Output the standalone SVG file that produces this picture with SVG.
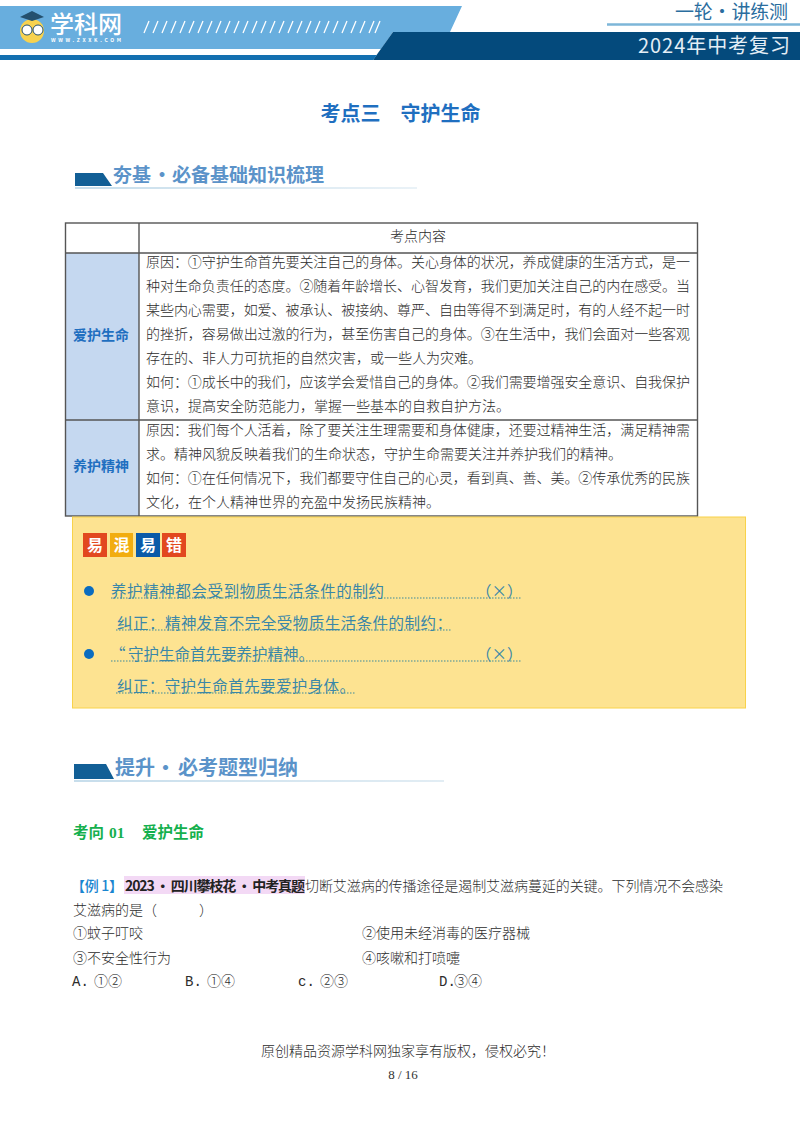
<svg xmlns="http://www.w3.org/2000/svg" width="800" height="1132" viewBox="0 0 800 1132">
<defs>
<linearGradient id="u1" gradientUnits="userSpaceOnUse" x1="75" y1="0" x2="417" y2="0"><stop offset="0" stop-color="#8fbcd8"/><stop offset="1" stop-color="#d5e5ef"/></linearGradient>
<linearGradient id="u2" gradientUnits="userSpaceOnUse" x1="74" y1="0" x2="444" y2="0"><stop offset="0" stop-color="#8fbcd8"/><stop offset="1" stop-color="#c5dbe9"/></linearGradient>
</defs>
<style>
text{font-family:"Noto Sans CJK SC","Noto Sans",sans-serif}
.b{font-size:14px;fill:#2c2c2c;font-weight:300}
.h{font-size:19px;font-weight:700;fill:#5b93c9}
.y{font-size:15.500px;fill:#3a87a8;font-weight:400}
.d{stroke:#3f8a9c;stroke-width:1.200;stroke-dasharray:1.500 1.500;fill:none}
.l{stroke:#555;stroke-width:1.400;fill:none}
.k{font-size:14px;font-weight:700;fill:#1f6fc0}
.t{font-size:16px;font-weight:700;fill:#fff;text-anchor:middle}
.o{font-family:"Liberation Mono",monospace}
</style>
<rect width="800" height="1132" fill="#fff"/>
<g id="header">
<polygon points="0,6 462,6 450,32 393,32 381,49 0,49" fill="#68aede"/>
<polygon points="393,32 800,32 800,60 373,60" fill="#044a7c"/>
<polygon points="0,55 377,55 373,60 0,60" fill="#1370b0"/>
<polyline points="607,24.500 800,24.500" stroke="#7db6d8" stroke-width="2.500"/>
<circle cx="32" cy="31" r="12" fill="#f7d24f"/>
<path d="M20 17 L32 11 L44 17 L32 21Z" fill="#24506e"/>
<circle cx="27" cy="30" r="5" fill="#fff" stroke="#24506e"/><circle cx="38" cy="30" r="5" fill="#fff" stroke="#24506e"/>
<text x="50" y="33" font-size="24" font-weight="500" fill="#fff" textLength="72">学科网</text>
<text x="51" y="41.500" font-size="5" font-weight="700" fill="#fff" textLength="70">WWW.ZXXK.COM</text>
<path d="M144 33L149 21M153 33L158 21M162 33L167 21M171 33L176 21M180 33L185 21M189 33L194 21M198 33L203 21M207 33L212 21M216 33L221 21M225 33L230 21M234 33L239 21M243 33L248 21M252 33L257 21M261 33L266 21M270 33L275 21M279 33L284 21M288 33L293 21M297 33L302 21M306 33L311 21M315 33L320 21M324 33L329 21M333 33L338 21M342 33L347 21M351 33L356 21M360 33L365 21M369 33L374 21M375 33L380 21" stroke="#fff" stroke-width="1.300"/>
<text x="675" y="18.500" font-size="19" fill="#2a6d9e" textLength="113">一轮·讲练测</text>
<text x="638" y="53" font-size="20" fill="#e4eef6" textLength="152">2024年中考复习</text>
</g>
<text id="title" x="400.500" y="121" font-size="20" font-weight="700" fill="#1f6fc0" text-anchor="middle" xml:space="preserve">考点三　守护生命</text>
<g id="section1">
<polygon points="75,173 103,173 112,186 75,186" fill="#125f96"/>
<path d="M75 188H417" stroke="url(#u1)" stroke-width="1.200"/>
<text class="h" y="182"><tspan x="113">夯基</tspan><tspan x="152.500">·</tspan><tspan x="172">必备基础知识梳理</tspan></text>
</g>
<g id="table">
<rect x="66" y="253" width="73" height="263" fill="#c5d8f0"/>
<rect x="65.500" y="223" width="632" height="293" class="l"/>
<path d="M139 223V516M65 253H698M65 420H698" class="l"/>
<text class="b" x="418" y="241" text-anchor="middle">考点内容</text>
<text class="k" x="101" y="340" text-anchor="middle">爱护生命</text>
<text class="k" x="101" y="471" text-anchor="middle">养护精神</text>
<text class="b" x="146" y="267" textLength="544">原因：①守护生命首先要关注自己的身体。关心身体的状况，养成健康的生活方式，是一</text>
<text class="b" x="146" y="291" textLength="544">种对生命负责任的态度。②随着年龄增长、心智发育，我们更加关注自己的内在感受。当</text>
<text class="b" x="146" y="315" textLength="544">某些内心需要，如爱、被承认、被接纳、尊严、自由等得不到满足时，有的人经不起一时</text>
<text class="b" x="146" y="339" textLength="544">的挫折，容易做出过激的行为，甚至伤害自己的身体。③在生活中，我们会面对一些客观</text>
<text class="b" x="146" y="363">存在的、非人力可抗拒的自然灾害，或一些人为灾难。</text>
<text class="b" x="146" y="387" textLength="544">如何：①成长中的我们，应该学会爱惜自己的身体。②我们需要增强安全意识、自我保护</text>
<text class="b" x="146" y="411">意识，提高安全防范能力，掌握一些基本的自救自护方法。</text>
<text class="b" x="146" y="435" textLength="544">原因：我们每个人活着，除了要关注生理需要和身体健康，还要过精神生活，满足精神需</text>
<text class="b" x="146" y="459">求。精神风貌反映着我们的生命状态，守护生命需要关注并养护我们的精神。</text>
<text class="b" x="146" y="483" textLength="544">如何：①在任何情况下，我们都要守住自己的心灵，看到真、善、美。②传承优秀的民族</text>
<text class="b" x="146" y="507">文化，在个人精神世界的充盈中发扬民族精神。</text>
</g>
<g id="note">
<rect x="72.500" y="517" width="673" height="191" fill="#fde391" stroke="#f8d24a"/>
<rect x="83" y="533" width="24" height="24" fill="#e2481f"/><text class="t" x="95" y="551">易</text>
<rect x="110" y="533" width="23" height="24" fill="#f2ad0f"/><text class="t" x="121.500" y="551">混</text>
<rect x="136" y="533" width="24" height="24" fill="#0a5aa8"/><text class="t" x="148" y="551">易</text>
<rect x="162" y="533" width="24" height="24" fill="#e2481f"/><text class="t" x="174" y="551">错</text>
<circle cx="89" cy="591" r="5" fill="#0a6cc0"/>
<circle cx="89" cy="654" r="5" fill="#0a6cc0"/>
<text class="y" x="111" y="596.500" textLength="273">养护精神都会受到物质生活条件的制约</text>
<text class="y" x="476" y="596.500">（×）</text>
<path class="d" d="M111 598H521"/>
<text class="y" x="117" y="628.500" textLength="335">纠正：精神发育不完全受物质生活条件的制约：</text>
<path class="d" d="M116 630H452"/>
<text class="y" y="660"><tspan x="110">“</tspan><tspan x="128">守护生命首先要养护精神。</tspan></text>
<text class="y" x="476" y="660">（×）</text>
<path class="d" d="M111 661H521"/>
<text class="y" x="117" y="691.500" textLength="238">纠正：守护生命首先要爱护身体。</text>
<path class="d" d="M116 693H355"/>
</g>
<g id="section2">
<polygon points="74,764 106,764 114,779 74,779" fill="#125f96"/>
<path d="M74 781H444" stroke="url(#u2)" stroke-width="1.200"/>
<text class="h" y="775" style="font-size:20px"><tspan x="115">提升</tspan><tspan x="155.500">·</tspan><tspan x="178">必考题型归纳</tspan></text>
</g>
<text id="sub" y="838" font-size="15.500" font-weight="700" fill="#15b04e"><tspan x="73">考向</tspan><tspan x="109" style="font-family:'Liberation Serif',serif">01</tspan><tspan x="142">爱护生命</tspan></text>
<g id="question">
<rect x="124" y="876" width="181" height="18" fill="#f3d9f5"/>
<text x="71" y="891" font-size="14" font-weight="500" fill="#1a86d0" textLength="52">【例 1】</text>
<text x="125" y="891" font-size="14" font-weight="700" fill="#222" textLength="180">2023 • 四川攀枝花 • 中考真题</text>
<text class="b" x="305" y="891" textLength="418">切断艾滋病的传播途径是遏制艾滋病蔓延的关键。下列情况不会感染</text>
<text class="b" x="73" y="915" xml:space="preserve">艾滋病的是（　　　）</text>
<text class="b" x="73" y="938">①蚊子叮咬</text>
<text class="b" x="362" y="938">②使用未经消毒的医疗器械</text>
<text class="b" x="73" y="963">③不安全性行为</text>
<text class="b" x="362" y="963">④咳嗽和打喷嚏</text>
<text class="b" y="986"><tspan class="o" x="72">A.</tspan><tspan x="94">①②</tspan></text>
<text class="b" y="986"><tspan class="o" x="185">B.</tspan><tspan x="207">①④</tspan></text>
<text class="b" y="986"><tspan class="o" x="298">c.</tspan><tspan x="320">②③</tspan></text>
<text class="b" y="986"><tspan class="o" x="439">D.</tspan><tspan x="454">③④</tspan></text>
</g>
<g id="footer">
<text class="b" x="408" y="1056" text-anchor="middle">原创精品资源学科网独家享有版权，侵权必究！</text>
<text x="403" y="1079" font-size="13" fill="#333" text-anchor="middle" style="font-family:'Liberation Serif',serif">8 / 16</text>
</g>
</svg>
